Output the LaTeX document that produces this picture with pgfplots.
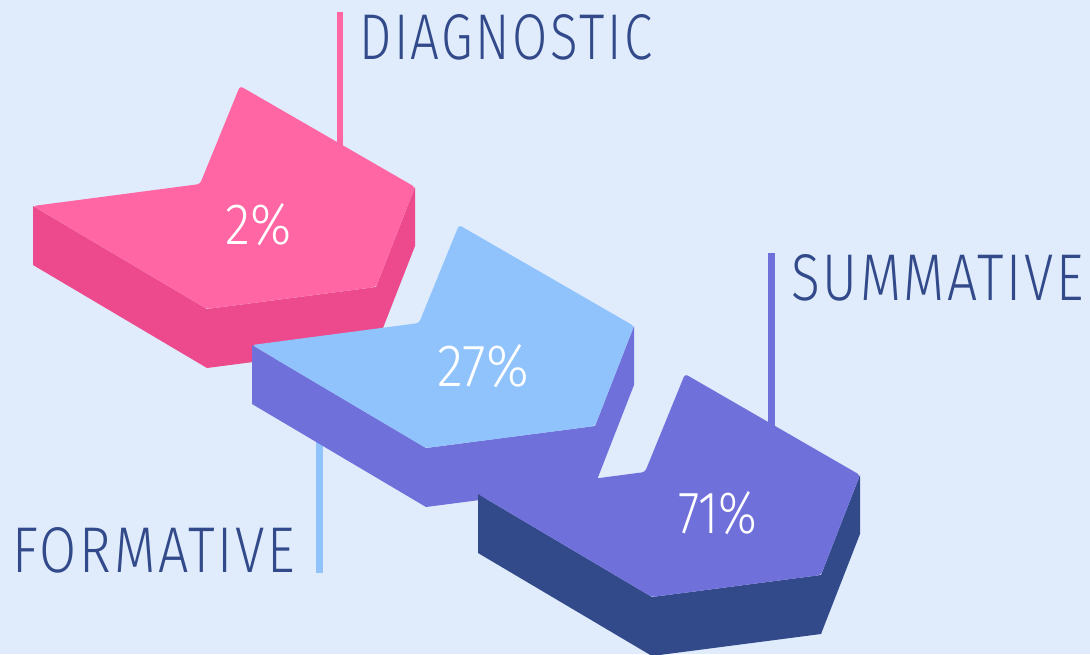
\documentclass[border=0pt]{standalone}
\usepackage{pgfplots}
\pgfplotsset{compat=1.18}
\usepackage{graphicx}
\usepackage{fontspec}
\setmainfont{Fira Sans}[UprightFont={* Light}]
\newfontfamily\lbl[LetterSpace=5]{Fira Sans}[UprightFont={* Light}]
\definecolor{bg}{HTML}{E0ECFC}
\definecolor{pinkTop}{HTML}{FF66A3}
\definecolor{pinkSide}{HTML}{EC4A8C}
\definecolor{blueTop}{HTML}{90C3FC}
\definecolor{blueSide}{HTML}{7070DB}
\definecolor{purpTop}{HTML}{7070DB}
\definecolor{purpSide}{HTML}{324A8A}
\definecolor{txt}{HTML}{324A8A}
\begin{document}
\begin{tikzpicture}
\begin{axis}[width=1090pt,height=654pt,scale only axis,
  xmin=0,xmax=1090,ymin=0,ymax=654,y dir=reverse,hide axis]
% background
\addplot[fill=bg,draw=none] coordinates {(0,0)(1090,0)(1090,654)(0,654)} --cycle;
% DIAGNOSTIC leader line
\addplot[draw=pinkTop,line width=6.5pt] coordinates {(340,12)(340,160)};
% pink chevron (2%)
\addplot[fill=pinkSide,draw=none] coordinates {(33,206)(207,309)(207,368)(33,265)} --cycle;
\addplot[fill=pinkSide,draw=none] coordinates {(207,309)(376,287)(376,346)(207,368)} --cycle;
\addplot[fill=pinkSide,draw=none] coordinates {(376,287)(415,187)(415,246)(376,346)} --cycle;
\addplot[fill=pinkTop,draw=none,rounded corners=3pt] coordinates {(33,206)(200,184)(240,86)(415,187)(376,287)(207,309)} --cycle;
% FORMATIVE leader line
\addplot[draw=blueTop,line width=6.5pt] coordinates {(319.5,420)(319.5,573)};
% blue chevron (27%)
\addplot[fill=blueSide,draw=none] coordinates {(252,345)(426,448)(426,507)(252,404)} --cycle;
\addplot[fill=blueSide,draw=none] coordinates {(426,448)(595,426)(595,485)(426,507)} --cycle;
\addplot[fill=blueSide,draw=none] coordinates {(595,426)(634,326)(634,385)(595,485)} --cycle;
\addplot[fill=blueTop,draw=none,rounded corners=3pt] coordinates {(252,345)(419,323)(459,225)(634,326)(595,426)(426,448)} --cycle;
% SUMMATIVE leader line
\addplot[draw=purpTop,line width=6.5pt] coordinates {(771.5,253)(771.5,440)};
% purple chevron (71%)
\addplot[fill=purpSide,draw=none] coordinates {(478,494)(652,597)(652,656)(478,553)} --cycle;
\addplot[fill=purpSide,draw=none] coordinates {(652,597)(821,575)(821,634)(652,656)} --cycle;
\addplot[fill=purpSide,draw=none] coordinates {(821,575)(860,475)(860,534)(821,634)} --cycle;
\addplot[fill=purpTop,draw=none,rounded corners=3pt] coordinates {(478,494)(645,472)(685,374)(860,475)(821,575)(652,597)} --cycle;
% labels
\node[anchor=south west,inner sep=0pt,text=txt] at (359,60) {\resizebox{293pt}{45pt}{\lbl DIAGNOSTIC}};
\node[anchor=south west,inner sep=0pt,text=txt] at (791,301) {\resizebox{292pt}{46pt}{\lbl SUMMATIVE}};
\node[anchor=south west,inner sep=0pt,text=txt] at (12,573) {\resizebox{283pt}{45pt}{\lbl FORMATIVE}};
% values
\node[anchor=south west,inner sep=0pt,text=white] at (225,246) {\resizebox{66pt}{41pt}{2\%}};
\node[anchor=south west,inner sep=0pt,text=white] at (437,388) {\resizebox{92pt}{42pt}{27\%}};
\node[anchor=south west,inner sep=0pt,text=white] at (678,535) {\resizebox{79pt}{42pt}{71\%}};
\end{axis}
\end{tikzpicture}
\end{document}
